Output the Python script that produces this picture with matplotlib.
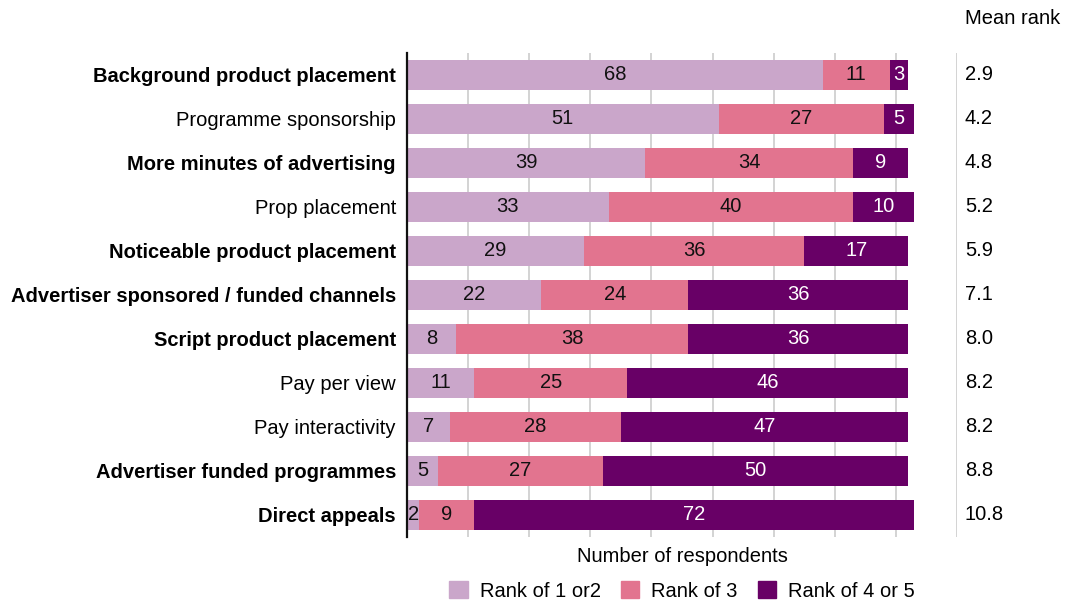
import matplotlib
matplotlib.use("Agg")
import matplotlib.pyplot as plt
from matplotlib.patches import Patch

plt.rcParams['font.family'] = ['Liberation Sans', 'DejaVu Sans']

categories = [
    "Background product placement",
    "Programme sponsorship",
    "More minutes of advertising",
    "Prop placement",
    "Noticeable product placement",
    "Advertiser sponsored / funded channels",
    "Script product placement",
    "Pay per view",
    "Pay interactivity",
    "Advertiser funded programmes",
    "Direct appeals",
]
bold = [True, False, True, False, True, True, True, False, False, True, True]
rank_1_2 = [68, 51, 39, 33, 29, 22, 8, 11, 7, 5, 2]
rank_3 = [11, 27, 34, 40, 36, 24, 38, 25, 28, 27, 9]
rank_4_5 = [3, 5, 9, 10, 17, 36, 36, 46, 47, 50, 72]
mean_rank = ["2.9", "4.2", "4.8", "5.2", "5.9", "7.1", "8.0", "8.2", "8.2", "8.8", "10.8"]

series = [
    ("Rank of 1 or2", rank_1_2, "#caa6ca", "#111111"),
    ("Rank of 3", rank_3, "#e2748f", "#111111"),
    ("Rank of 4 or 5", rank_4_5, "#680066", "white"),
]

FS = 14.5

fig = plt.figure(figsize=(10.65, 6.02), dpi=100)
ax = fig.add_axes([0.3822, 0.108, 0.5164, 0.804])

y = list(range(len(categories)))
left = [0] * len(categories)
for name, vals, color, tcolor in series:
    bars = ax.barh(y, vals, left=left, height=0.68, color=color, label=name, zorder=2)
    for b, v in zip(bars, vals):
        ax.text(b.get_x() + b.get_width() / 2, b.get_y() + b.get_height() / 2, str(v),
                ha='center', va='center', color=tcolor, fontsize=FS, zorder=3)
    left = [l + v for l, v in zip(left, vals)]

ax.set_ylim(len(categories) - 0.5, -0.5)
ax.set_xlim(0, 90)
ax.set_yticks(y)
ax.set_yticklabels(categories, fontsize=FS)
for lbl, b in zip(ax.get_yticklabels(), bold):
    if b:
        lbl.set_fontweight('bold')
ax.tick_params(axis='y', length=0, pad=8)

ax.set_xticks(range(10, 91, 10))
ax.tick_params(axis='x', length=0, labelbottom=False)
ax.grid(axis='x', color='#c8c8c8', linewidth=1.1, zorder=0)

for s in ['top', 'right', 'bottom']:
    ax.spines[s].set_visible(False)
ax.spines['left'].set_color('#111111')
ax.spines['left'].set_linewidth(1.6)

# mean rank column to the right of the bars
tr = ax.get_yaxis_transform()
for yi, m in zip(y, mean_rank):
    ax.text(1.0145, yi, m, transform=tr, ha='left', va='center', fontsize=FS)
fig.text(965 / 1065, 1 - 18 / 602, "Mean rank", ha='left', va='center', fontsize=FS)

fig.text(682 / 1065, 1 - 556 / 602, "Number of respondents", ha='center', va='center', fontsize=FS)

handles = [Patch(color=c, label=n) for n, _, c, _ in series]
fig.legend(handles=handles, loc='center', bbox_to_anchor=(682 / 1065, 1 - 591 / 602),
           ncol=3, frameon=False, fontsize=FS, handlelength=0.9, handleheight=0.9,
           handletextpad=0.6, columnspacing=1.0)

fig.savefig("out.png", dpi=100)
